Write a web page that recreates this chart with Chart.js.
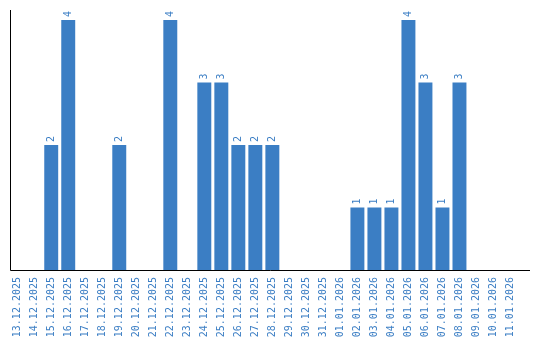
<!DOCTYPE html>
<html>
<head>
<meta charset="utf-8">
<script src="https://cdn.jsdelivr.net/npm/chart.js@4"></script>
<style>
  html, body { margin: 0; padding: 0; background: #fff; }
  #wrap { width: 540px; height: 340px; }
</style>
</head>
<body>
<div id="wrap"><canvas id="exit_chart"></canvas></div>
<script>
const dates = [
    '13.12.2025', '14.12.2025', '15.12.2025', '16.12.2025', '17.12.2025', '18.12.2025',
    '19.12.2025', '20.12.2025', '21.12.2025', '22.12.2025', '23.12.2025', '24.12.2025',
    '25.12.2025', '26.12.2025', '27.12.2025', '28.12.2025', '29.12.2025', '30.12.2025',
    '31.12.2025', '01.01.2026', '02.01.2026', '03.01.2026', '04.01.2026', '05.01.2026',
    '06.01.2026', '07.01.2026', '08.01.2026', '09.01.2026', '10.01.2026', '11.01.2026'
];
const counts = [
    0, 0, 2, 4, 0, 0,
    2, 0, 0, 4, 0, 3,
    3, 2, 2, 2, 0, 0,
    0, 0, 1, 1, 1, 4,
    3, 1, 3, 0, 0, 0
];

const barColor = '#3b7ec4';
const labelFont = "10px 'DejaVu Sans Mono'";

// value above each bar, turned 90 degrees
const barValues = {
    id: 'barValues',
    afterDatasetsDraw(chart) {
        const ctx = chart.ctx;
        const meta = chart.getDatasetMeta(0);
        ctx.save();
        ctx.font = labelFont;
        ctx.fillStyle = barColor;
        ctx.textAlign = 'left';
        ctx.textBaseline = 'middle';
        meta.data.forEach((bar, i) => {
            if (!counts[i]) return;
            ctx.save();
            ctx.translate(bar.x, bar.y - 3);
            ctx.rotate(-Math.PI / 2);
            ctx.fillText(String(counts[i]), 0, 0);
            ctx.restore();
        });
        ctx.restore();
    }
};

// both axis lines; the x one runs a bit past the last day
const axisLines = {
    id: 'axisLines',
    afterDraw(chart) {
        const ctx = chart.ctx;
        const a = chart.chartArea;
        const y0 = Math.round(a.bottom) + 0.5;
        ctx.save();
        ctx.strokeStyle = '#000';
        ctx.lineWidth = 1;
        ctx.beginPath();
        ctx.moveTo(10.5, Math.round(a.top));
        ctx.lineTo(10.5, y0);
        ctx.lineTo(530, y0);
        ctx.stroke();
        ctx.restore();
    }
};

let canvas = document.getElementById('exit_chart').getContext('2d');
let myChart = new Chart(canvas, {
    type: 'bar',
    data: {
        labels: dates,
        datasets: [{
            data: counts,
            backgroundColor: barColor,
            barPercentage: 0.82,
            categoryPercentage: 1.0,
        }]
    },
    plugins: [barValues, axisLines],
    options: {
        responsive: true,
        maintainAspectRatio: false,
        animation: false,
        layout: { padding: { top: 10, left: 0.7, right: 21, bottom: 0 } },
        plugins: {
            legend: { display: false },
            tooltip: { enabled: false },
        },
        scales: {
            x: {
                grid: { display: false, drawTicks: false, tickLength: 0 },
                border: { display: false },
                ticks: {
                    color: barColor,
                    font: { family: "'DejaVu Sans Mono'", size: 10 },
                    minRotation: 90,
                    maxRotation: 90,
                    autoSkip: false,
                    padding: 7,
                },
                afterFit: function (scale) {
                    scale.height = 70;
                }
            },
            y: {
                beginAtZero: true,
                min: 0,
                max: 4.16,
                grid: { display: false },
                border: { display: false },
                ticks: { display: false },
            }
        }
    }
});
</script>
</body>
</html>
